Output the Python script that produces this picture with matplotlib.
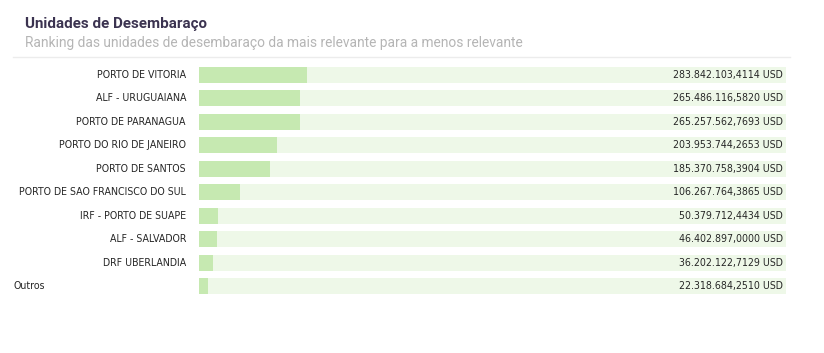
import matplotlib.pyplot as plt
from matplotlib import font_manager
from matplotlib.transforms import blended_transform_factory

# dados
unidades = ['PORTO DE VITORIA', 'ALF - URUGUAIANA', 'PORTO DE PARANAGUA',
            'PORTO DO RIO DE JANEIRO', 'PORTO DE SANTOS',
            'PORTO DE SAO FRANCISCO DO SUL', 'IRF - PORTO DE SUAPE',
            'ALF - SALVADOR', 'DRF UBERLANDIA', 'Outros']
valores = [283842103.4114, 265486116.5820, 265257562.7693, 203953744.2653,
           185370758.3904, 106267764.3865, 50379712.4434, 46402897.0000,
           36202122.7129, 22318684.2510]
rotulos = ['283.842.103,4114 USD', '265.486.116,5820 USD', '265.257.562,7693 USD',
           '203.953.744,2653 USD', '185.370.758,3904 USD', '106.267.764,3865 USD',
           '50.379.712,4434 USD', '46.402.897,0000 USD', '36.202.122,7129 USD',
           '22.318.684,2510 USD']
total = 1.54e9  # escala da barra de fundo

# procura uma fonte condensada instalada
nomes = {f.name for f in font_manager.fontManager.ttflist}
condensadas = [f for f in font_manager.fontManager.ttflist
               if 'ondensed' in f.fname or 'Narrow' in f.name or f.stretch in ('condensed', 'semi-condensed')]
if 'Liberation Sans Narrow' in nomes:
    fonte = dict(family='Liberation Sans Narrow', fontsize=8.5)
elif condensadas:
    fonte = dict(family=condensadas[0].name, stretch=condensadas[0].stretch, fontsize=7.6)
else:
    fonte = dict(family='Roboto', fontsize=7.2)

W, H = 824, 353
fig = plt.figure(figsize=(W / 100, H / 100), dpi=100)
ax = fig.add_axes([199 / W, 55 / H, 587 / W, 235 / H])

y = list(range(len(unidades)))
ax.barh(y, [total] * len(y), height=0.68, color='#eef8e8')
ax.barh(y, valores, height=0.68, color='#c6e9b1')
ax.set_xlim(0, total)
ax.set_ylim(len(y) - 0.5, -0.5)
ax.axis('off')

trans = blended_transform_factory(fig.transFigure, ax.transData)
for i, (nome, rot) in enumerate(zip(unidades, rotulos)):
    if nome == 'Outros':
        ax.text(13 / W, i, nome, transform=trans, ha='left', va='center',
                color='#262626', **fonte)
    else:
        ax.text(186 / W, i, nome, transform=trans, ha='right', va='center',
                color='#262626', **fonte)
    ax.text(783 / W, i, rot, transform=trans, ha='right', va='center',
            color='#262626', **fonte)

fig.text(25 / W, 1 - 24 / H, 'Unidades de Desembaraço', fontsize=10.9,
         fontweight='bold', color='#3b3350', va='center', family='Roboto')
fig.text(25 / W, 1 - 43 / H,
         'Ranking das unidades de desembaraço da mais relevante para a menos relevante',
         fontsize=9.9, color='#b5b5b5', va='center', family='Roboto')
fig.add_artist(plt.Line2D([13 / W, 790 / W], [1 - 57 / H, 1 - 57 / H],
                          color='#ececec', lw=1))

fig.savefig('out.png', dpi=100)
